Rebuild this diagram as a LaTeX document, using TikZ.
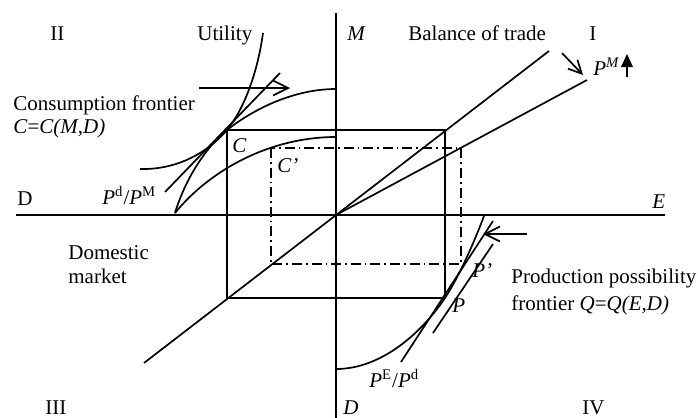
\documentclass[tikz,border=0pt]{standalone}
\usepackage{fontspec}
\setmainfont{Liberation Serif}
\usetikzlibrary{arrows.meta}
\begin{document}
\begin{tikzpicture}[x=0.5pt,y=-0.5pt,
  lbl/.style={anchor=base west,inner sep=0pt,font=\fontsize{10.5pt}{12.6pt}\selectfont},
  ln/.style={line width=0.85pt},
  dashdot/.style={line width=0.85pt,dash pattern=on 5pt off 2pt on 0.8pt off 2pt},
  barb/.style={-{Straight Barb[length=7.5pt,width=7.5pt]}}
]
\useasboundingbox (0,0) rectangle (698,418);
\coordinate (O) at (336,215);
\coordinate (C) at (227,130);
\coordinate (P) at (445,298);
\coordinate (Cp) at (270.7,148);
\coordinate (Pp) at (460.7,264);
% axes
\draw[ln] (16,215) -- (665,215);
\draw[ln] (336,13) -- (336,418);
% rectangles
\draw[ln] (C) rectangle (P);
\draw[dashdot] (Cp) rectangle (Pp);
% trade lines
\draw[ln] (144,363) -- (549,51);
\draw[ln] (O) -- (587,80);
% quadrant II
\draw[ln] (140,169) .. controls (180,170) and (210,150) .. (C) .. controls (245,108) and (258,70) .. (263,33);
\draw[ln] (165,192) -- (280,73);
\draw[ln] (175,213) .. controls (185,180) and (205,148) .. (C) .. controls (255,108) and (295,89) .. (336,89);
\draw[ln] (175,213) .. controls (210,170) and (270,137) .. (336,137);
\draw[ln,barb] (199,88) -- (290,88);
% quadrant IV
\draw[ln] (336,369) .. controls (380,369) and (420,335) .. (P) .. controls (460,275) and (475,240) .. (484,216);
\draw[ln] (401,362) -- (493,221);
\draw[ln] (433,333) -- (493,244);
\draw[ln,barb] (527,234) -- (483,234);
% P^M arrow and up arrow
\draw[ln,-{Straight Barb[length=6.5pt,width=6.5pt]}] (562,53) -- (583,75);
\fill (627,54) -- (633,67) -- (621,67) -- cycle;
\draw[ln] (627,66) -- (627,77);
% labels
\node[lbl] (lII) at (50,40) {II};
\node[lbl] (lUt) at (197,40) {Utility};
\node[lbl] (lM) at (347,40) {\textit{M}};
\node[lbl] (lBoT) at (408,40) {Balance of trade};
\node[lbl] (lI) at (589,40) {I};
\node[lbl] (lPM) at (593,75) {\textit{P}\textsuperscript{\textit{M}}};
\node[lbl] (lCF) at (13,110) {Consumption frontier};
\node[lbl] (lCeq) at (13,133) {\textit{C}=\textit{C(M,D)}};
\node[lbl] (lC) at (232,152) {\textit{C}};
\node[lbl] (lCp) at (277,172) {\textit{C’}};
\node[lbl] (lD) at (17,205) {D};
\node[lbl] (lPdPM) at (102,204) {\textit{P}\textsuperscript{d}/\textit{P}\textsuperscript{M}};
\node[lbl] (lE) at (652,208) {\textit{E}};
\node[lbl] (lDom) at (68,259) {Domestic};
\node[lbl] (lMkt) at (68,283) {market};
\node[lbl] (lPp) at (472,277) {\textit{P’}};
\node[lbl] (lP) at (452,312) {\textit{P}};
\node[lbl] (lPPF) at (511,283) {Production possibility};
\node[lbl] (lQeq) at (511,310) {frontier \textit{Q}=\textit{Q(E,D)}};
\node[lbl] (lPEPd) at (369,387) {\textit{P}\textsuperscript{E}/\textit{P}\textsuperscript{d}};
\node[lbl] (lIII) at (45,414) {III};
\node[lbl] (lDb) at (343,414) {\textit{D}};
\node[lbl] (lIV) at (582,414) {IV};
\end{tikzpicture}
\end{document}
